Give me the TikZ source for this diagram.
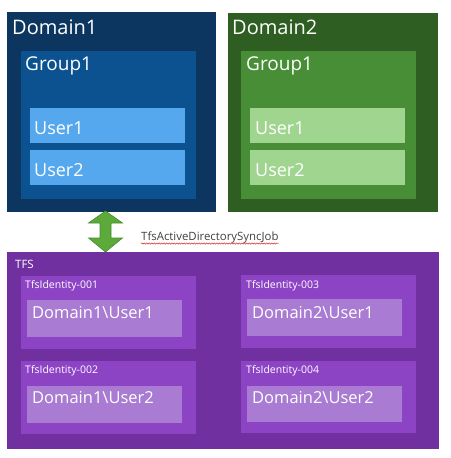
\documentclass[tikz,border=0pt]{standalone}
\usepackage{fontspec}
\setmainfont{Open Sans}
\usetikzlibrary{decorations.pathmorphing}
\definecolor{domblue}{HTML}{0C3560}
\definecolor{grpblue}{HTML}{0D5290}
\definecolor{usrblue}{HTML}{55A8EE}
\definecolor{domgreen}{HTML}{2E5E22}
\definecolor{grpgreen}{HTML}{478E37}
\definecolor{usrgreen}{HTML}{9FD58E}
\definecolor{tfspurple}{HTML}{7030A0}
\definecolor{idpurple}{HTML}{8C44C5}
\definecolor{namepurple}{HTML}{A97BD3}
\definecolor{arrgreen}{HTML}{5BAA3A}
\begin{document}
\begin{tikzpicture}[x=1pt,y=-1pt,
  box/.style={anchor=north west,inner sep=0pt,outer sep=0pt},
  lbl/.style={anchor=base west,inner sep=0pt,text=white}]
  \useasboundingbox (0,0) rectangle (450,458);
  %Domain1
  	\node[box,fill=domblue,minimum width=209pt,minimum height=200pt] (dom1) at (7,12) {};
  	\node[lbl,font=\fontsize{20}{24}\selectfont] (dom1txt) at (12,34) {Domain1};
  	\node[box,fill=grpblue,minimum width=175pt,minimum height=148pt] (grp1a) at (21,51) {};
  	\node[lbl,font=\fontsize{19}{22}\selectfont] (grp1atxt) at (25,70) {Group1};
  	\node[box,fill=usrblue,minimum width=155pt,minimum height=35pt] (usr1a) at (30,108) {};
  	\node[lbl,font=\fontsize{18}{20}\selectfont] (usr1atxt) at (34,134) {User1};
  	\node[box,fill=usrblue,minimum width=155pt,minimum height=35pt] (usr2a) at (30,150) {};
  	\node[lbl,font=\fontsize{18}{20}\selectfont] (usr2atxt) at (34,176) {User2};

  %Domain2
  	\node[box,fill=domgreen,minimum width=210pt,minimum height=199pt] (dom2) at (228,13) {};
  	\node[lbl,font=\fontsize{20}{24}\selectfont] (dom2txt) at (232,34) {Domain2};
  	\node[box,fill=grpgreen,minimum width=175pt,minimum height=148pt] (grp1b) at (241,51) {};
  	\node[lbl,font=\fontsize{19}{22}\selectfont] (grp1btxt) at (246,70) {Group1};
  	\node[box,fill=usrgreen,minimum width=155pt,minimum height=35pt] (usr1b) at (250,108) {};
  	\node[lbl,font=\fontsize{18}{20}\selectfont] (usr1btxt) at (255,134) {User1};
  	\node[box,fill=usrgreen,minimum width=155pt,minimum height=35pt] (usr2b) at (250,150) {};
  	\node[lbl,font=\fontsize{18}{20}\selectfont] (usr2btxt) at (255,176) {User2};

  %TFS
  	\node[box,fill=tfspurple,minimum width=432pt,minimum height=197pt] (tfs) at (7,252) {};
  	\node[lbl,font=\fontsize{11.5}{13}\selectfont] (tfstxt) at (15,268) {TFS};

  %identiteter
  	\node[box,fill=idpurple,minimum width=175pt,minimum height=73pt] (id1) at (21,276) {};
  	\node[lbl,font=\fontsize{10.5}{12}\selectfont] (id1txt) at (25,288) {TfsIdentity-001};
  	\node[box,fill=namepurple,minimum width=155pt,minimum height=37pt] (name1) at (27,300) {};
  	\node[lbl,font=\fontsize{16.5}{19}\selectfont] (name1txt) at (32,318) {Domain1\textbackslash User1};

  	\node[box,fill=idpurple,minimum width=175pt,minimum height=73pt] (id3) at (241,275) {};
  	\node[lbl,font=\fontsize{10.5}{12}\selectfont] (id3txt) at (246,288) {TfsIdentity-003};
  	\node[box,fill=namepurple,minimum width=155pt,minimum height=37pt] (name3) at (247,299) {};
  	\node[lbl,font=\fontsize{16.5}{19}\selectfont] (name3txt) at (252,318) {Domain2\textbackslash User1};

  	\node[box,fill=idpurple,minimum width=175pt,minimum height=73pt] (id2) at (21,361) {};
  	\node[lbl,font=\fontsize{10.5}{12}\selectfont] (id2txt) at (25,373) {TfsIdentity-002};
  	\node[box,fill=namepurple,minimum width=155pt,minimum height=37pt] (name2) at (27,386) {};
  	\node[lbl,font=\fontsize{16.5}{19}\selectfont] (name2txt) at (32,403) {Domain1\textbackslash User2};

  	\node[box,fill=idpurple,minimum width=175pt,minimum height=72pt] (id4) at (241,361) {};
  	\node[lbl,font=\fontsize{10.5}{12}\selectfont] (id4txt) at (246,373) {TfsIdentity-004};
  	\node[box,fill=namepurple,minimum width=155pt,minimum height=36pt] (name4) at (247,386) {};
  	\node[lbl,font=\fontsize{16.5}{19}\selectfont] (name4txt) at (252,403) {Domain2\textbackslash User2};

  %synk-pil
  	\coordinate (arrtop) at (105.5,211);
  	\fill[arrgreen,draw=arrgreen!80!black,line width=0.6pt] (arrtop) -- ++(17,12) -- ++(-11.5,0) -- ++(0,15) -- ++(11.5,0)
  		-- ++(-17,14) -- ++(-17,-14) -- ++(11.5,0) -- ++(0,-15) -- ++(-11.5,0) -- cycle;
  	\node[anchor=base west,inner sep=0pt,text=black!75,font=\fontsize{11.4}{13}\selectfont] (syncjob) at (141,240) {TfsActiveDirectorySyncJob};
  	\draw[red!85!black,line width=0.4pt,decorate,decoration={snake,amplitude=0.7pt,segment length=2.5pt}]
  		([yshift=-3.5pt]syncjob.base west) -- ([yshift=-3.5pt]syncjob.base east);
\end{tikzpicture}
\end{document}
